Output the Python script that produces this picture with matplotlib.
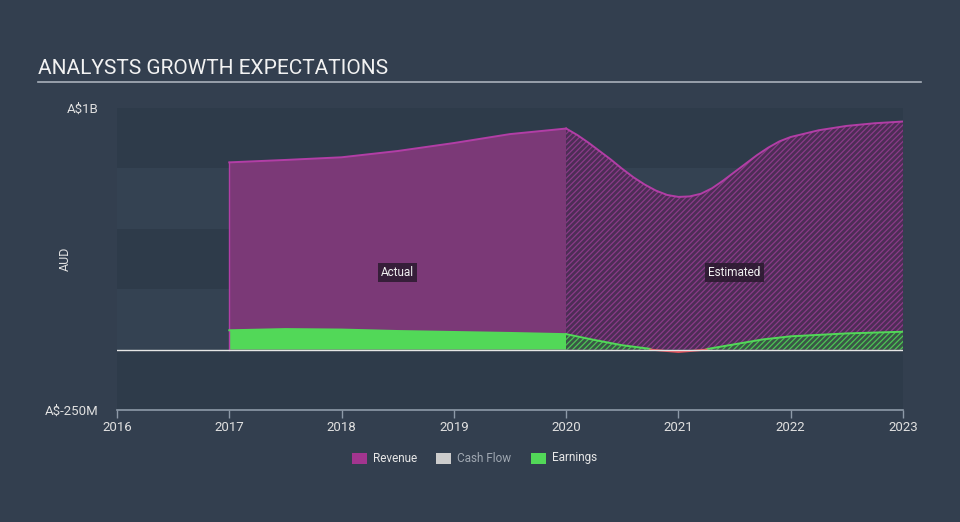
import matplotlib
matplotlib.use("Agg")
import matplotlib.pyplot as plt
from matplotlib.patches import Rectangle
import numpy as np

plt.rcParams['font.family'] = ['Roboto', 'DejaVu Sans']
plt.rcParams['hatch.linewidth'] = 0.9

# ---- data (A$ billions) ----
rev_act_x = [2017.0, 2017.5, 2018.0, 2018.5, 2019.0, 2019.5, 2020.0]
rev_act_y = [0.775, 0.785, 0.796, 0.822, 0.855, 0.892, 0.915]
rev_est_x = [2020.0, 2020.1, 2020.2, 2020.3, 2020.4, 2020.5, 2020.6, 2020.7, 2020.8, 2020.9,
             2021.0, 2021.1, 2021.2, 2021.3, 2021.4, 2021.5, 2021.6, 2021.7,
             2021.8, 2021.9, 2022.0, 2022.25, 2022.5, 2022.75, 2023.0]
rev_est_y = [0.915, 0.888, 0.856, 0.821, 0.786, 0.748, 0.713, 0.683, 0.658, 0.640,
             0.632, 0.634, 0.645, 0.668, 0.700, 0.735, 0.770, 0.805,
             0.836, 0.862, 0.880, 0.908, 0.926, 0.937, 0.944]
earn_act_x = [2017.0, 2017.5, 2018.0, 2018.5, 2019.0, 2019.5, 2020.0]
earn_act_y = [0.080, 0.085, 0.083, 0.077, 0.073, 0.069, 0.064]
earn_est_x = [2020.0, 2020.25, 2020.5, 2020.75, 2021.0, 2021.25, 2021.5, 2021.75,
              2022.0, 2022.5, 2023.0]
earn_est_y = [0.064, 0.040, 0.018, 0.003, -0.010, 0.002, 0.022, 0.042,
              0.055, 0.067, 0.074]
x_ticks = [2016, 2017, 2018, 2019, 2020, 2021, 2022, 2023]
y_tick_vals = [1.0, -0.25]
y_tick_labels = ['A$1B', 'A$-250M']
legend_labels = ['Revenue', 'Cash Flow', 'Earnings']

BG = '#333f4f'
REV_FILL = '#7b3977'
REV_LINE = '#b23ea6'
REV_EST_FACE = '#4d2d56'
REV_HATCH = '#8a3b88'
EARN = '#52d858'

fig = plt.figure(figsize=(9.6, 5.22), dpi=100)
fig.patch.set_facecolor(BG)

W, H = 960, 522
ax = fig.add_axes([117 / W, 1 - 410 / H, (903 - 117) / W, (410 - 108) / H])
ax.set_facecolor('#344252')
ax.set_xlim(2016, 2023)
ax.set_ylim(-0.25, 1.0)

# alternating bands
for i, lo in enumerate(np.arange(-0.25, 1.0, 0.25)):
    col = '#2e3b4a' if i % 2 == 0 else '#344252'
    ax.axhspan(lo, lo + 0.25, color=col, lw=0, zorder=0)

# revenue actual
ax.fill_between(rev_act_x, 0, rev_act_y, facecolor=REV_FILL, lw=0, zorder=2)
ax.plot(rev_act_x, rev_act_y, color=REV_LINE, lw=1.4, zorder=4)
ax.plot([rev_act_x[0], rev_act_x[0]], [0, rev_act_y[0]], color=REV_LINE, lw=1, zorder=4)

# revenue estimated (hatched)
ax.fill_between(rev_est_x, 0, rev_est_y, facecolor=REV_EST_FACE, edgecolor=REV_HATCH,
                hatch='//////', lw=0, zorder=2)
ax.plot(rev_est_x, rev_est_y, color=REV_LINE, lw=1.4, zorder=4)

# earnings actual
ax.fill_between(earn_act_x, 0, earn_act_y, facecolor=EARN, lw=0, zorder=3)
ax.plot(earn_act_x, earn_act_y, color=EARN, lw=1.4, zorder=4)

# earnings estimated
ex = np.array(earn_est_x)
ey = np.array(earn_est_y)
ax.fill_between(ex, 0, ey, where=ey >= 0, interpolate=True, facecolor='#3a5646',
                edgecolor='#4cc455', hatch='//////', lw=0, zorder=3)
ax.plot(ex, np.where(ey >= 0, ey, np.nan), color=EARN, lw=1.4, zorder=4)
neg = ey < 0
idx = np.where(neg)[0]
seg = slice(idx[0] - 1, idx[-1] + 2)
ax.plot(ex[seg], np.minimum(ey[seg], 0), color='#e0505a', lw=1.4, zorder=4)

# zero line
ax.axhline(0, color='#e6e6e6', lw=1.0, zorder=5)

# labels
box = dict(boxstyle='square,pad=0.25', facecolor='#2a1a2e', edgecolor='none', alpha=0.85)
ax.text(2018.5, 0.32, 'Actual', color='#f0f0f0', fontsize=8.5, ha='center', va='center',
        bbox=box, zorder=6)
ax.text(2021.5, 0.32, 'Estimated', color='#f0f0f0', fontsize=8.5, ha='center', va='center',
        bbox=box, zorder=6)

# axes styling
for s in ['top', 'right', 'left']:
    ax.spines[s].set_visible(False)
ax.spines['bottom'].set_color('#8e9aa8')
ax.spines['bottom'].set_linewidth(1.2)
ax.set_xticks(x_ticks)
ax.set_xticklabels([str(t) for t in x_ticks])
ax.tick_params(axis='x', colors='#8e9aa8', length=6, width=1, labelcolor='#e0e0e0',
               labelsize=9.5, pad=2)
ax.set_yticks(y_tick_vals)
ax.set_yticklabels(y_tick_labels)
ax.tick_params(axis='y', length=0, labelcolor='#e0e0e0', labelsize=9.5, pad=13)
ax.set_ylabel('AUD', color='#e0e0e0', fontsize=9)
ax.yaxis.set_label_coords(-0.058, 0.5)

# title
fig.text(38 / W, 1 - 68 / H, 'ANALYSTS GROWTH EXPECTATIONS', color='#f2f2f2',
         fontsize=15, va='center', ha='left')
fig.add_artist(plt.Line2D([38 / W, 921 / W], [1 - 82 / H, 1 - 82 / H], color='#a9b1bb',
                          lw=1.2, transform=fig.transFigure))

# legend
lx = [352, 436, 531]
colors = ['#a3358f', '#cccccc', EARN]
tcolors = ['#e8e8e8', '#a0a8b2', '#e8e8e8']
ly = 1 - 458 / H
for x0, c, tc, lab in zip(lx, colors, tcolors, legend_labels):
    fig.add_artist(Rectangle((x0 / W, ly - 5.5 / H), 15 / W, 11 / H, facecolor=c,
                             edgecolor='none', transform=fig.transFigure))
    fig.text((x0 + 21) / W, ly, lab, color=tc, fontsize=8.5, va='center', ha='left')

fig.savefig('out.png', dpi=100, facecolor=BG)
